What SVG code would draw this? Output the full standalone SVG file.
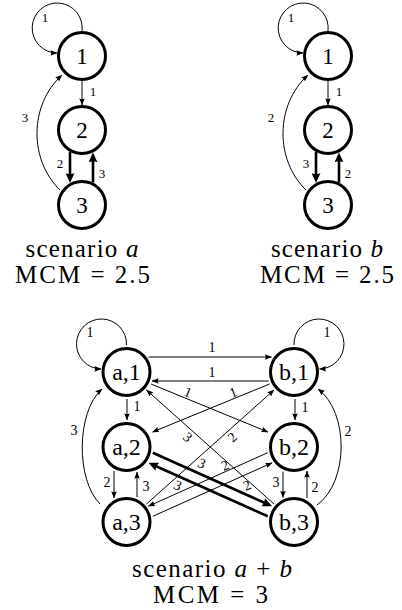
<svg xmlns="http://www.w3.org/2000/svg" width="402" height="610" viewBox="0 0 402 610">
<defs>
<marker id="ah" viewBox="0 0 10 8" refX="9.5" refY="4" markerWidth="7" markerHeight="5.6" orient="auto" markerUnits="userSpaceOnUse"><path d="M0,0 L10,4 L0,8 Q2.5,4 0,0 z" fill="#000"/></marker>
<marker id="AH" viewBox="0 0 10 9" refX="4" refY="4.5" markerWidth="10" markerHeight="9" orient="auto" markerUnits="userSpaceOnUse"><path d="M0,0 L10,4.5 L0,9 Q2.5,4.5 0,0 z" fill="#000"/></marker>
</defs>

<g id="scenario-a">
<g id="edges-a" fill="none" stroke="#000" stroke-width="1">
<path marker-end="url(#ah)" d="M82,31 A25,25 0 1 0 57,53"/>
<path marker-end="url(#ah)" d="M82,81 V105"/>
<path marker-end="url(#AH)" stroke-width="2.6" d="M70,152 V177"/>
<path marker-end="url(#AH)" stroke-width="2.6" d="M93,182.6 V158.4"/>
<path marker-end="url(#ah)" d="M60,190 C29,160 29,105 62,75"/>
</g>
<g id="labels-a" font-size="13" text-anchor="middle" fill="#000">
<text font-family="'Liberation Serif', serif" x="45" y="21.5">1</text>
<text font-family="'Liberation Serif', serif" x="93" y="95.5">1</text>
<text font-family="'Liberation Serif', serif" x="60" y="167.5">2</text>
<text font-family="'Liberation Serif', serif" x="102" y="177.5">3</text>
<text font-family="'Liberation Serif', serif" x="25" y="121.5">3</text>
</g>
<g fill="#fff" stroke="#000" stroke-width="3">
<g id="a-1"><circle cx="82" cy="56" r="23.5"/><text font-family="'Liberation Serif', serif" font-size="23" text-anchor="middle" fill="#000" stroke="none" x="82" y="64">1</text></g>
<g id="a-2"><circle cx="82" cy="130" r="23.5"/><text font-family="'Liberation Serif', serif" font-size="23" text-anchor="middle" fill="#000" stroke="none" x="82" y="138">2</text></g>
<g id="a-3"><circle cx="82" cy="205" r="23.5"/><text font-family="'Liberation Serif', serif" font-size="23" text-anchor="middle" fill="#000" stroke="none" x="82" y="213">3</text></g>
</g>
<g font-size="25" text-anchor="middle" fill="#000">
<text font-family="'Liberation Serif', serif" x="82" y="257" textLength="113">scenario <tspan font-style="italic">a</tspan></text>
<text font-family="'Liberation Serif', serif" x="82.5" y="283" textLength="135">MCM = 2.5</text>
</g>
</g>

<g id="scenario-b" transform="translate(246,0)">
<g id="edges-b" fill="none" stroke="#000" stroke-width="1">
<path marker-end="url(#ah)" d="M82,31 A25,25 0 1 0 57,53"/>
<path marker-end="url(#ah)" d="M82,81 V105"/>
<path marker-end="url(#AH)" stroke-width="2.6" d="M70,152 V177"/>
<path marker-end="url(#AH)" stroke-width="2.6" d="M93,182.6 V158.4"/>
<path marker-end="url(#ah)" d="M60,190 C29,160 29,105 62,75"/>
</g>
<g id="labels-b" font-size="13" text-anchor="middle" fill="#000">
<text font-family="'Liberation Serif', serif" x="45" y="21.5">1</text>
<text font-family="'Liberation Serif', serif" x="93" y="95.5">1</text>
<text font-family="'Liberation Serif', serif" x="60" y="167.5">3</text>
<text font-family="'Liberation Serif', serif" x="102" y="177.5">2</text>
<text font-family="'Liberation Serif', serif" x="25" y="121.5">2</text>
</g>
<g fill="#fff" stroke="#000" stroke-width="3">
<g id="b-1"><circle cx="82" cy="56" r="23.5"/><text font-family="'Liberation Serif', serif" font-size="23" text-anchor="middle" fill="#000" stroke="none" x="82" y="64">1</text></g>
<g id="b-2"><circle cx="82" cy="130" r="23.5"/><text font-family="'Liberation Serif', serif" font-size="23" text-anchor="middle" fill="#000" stroke="none" x="82" y="138">2</text></g>
<g id="b-3"><circle cx="82" cy="205" r="23.5"/><text font-family="'Liberation Serif', serif" font-size="23" text-anchor="middle" fill="#000" stroke="none" x="82" y="213">3</text></g>
</g>
<g font-size="25" text-anchor="middle" fill="#000">
<text font-family="'Liberation Serif', serif" x="81" y="257" textLength="112">scenario <tspan font-style="italic">b</tspan></text>
<text font-family="'Liberation Serif', serif" x="81" y="283" textLength="134">MCM = 2.5</text>
</g>
</g>

<g id="scenario-ab">
<g id="edges-ab" fill="none" stroke="#000" stroke-width="1">
<path marker-end="url(#ah)" d="M148.5,357 H271.5"/>
<path marker-end="url(#ah)" d="M268.5,381 H152"/>
<path marker-end="url(#ah)" d="M127,399 V420"/>
<path marker-end="url(#ah)" d="M295,399 V420"/>
<path marker-end="url(#ah)" d="M114,471 V498"/>
<path marker-end="url(#ah)" d="M137,497 V472"/>
<path marker-end="url(#ah)" d="M283,471.5 V497.5"/>
<path marker-end="url(#ah)" d="M307,498 V471"/>
<path marker-end="url(#ah)" d="M100,504 C76,480 76,412 102,389"/>
<path marker-end="url(#ah)" d="M317,505 C349,482 349,412 318,389"/>
<path marker-end="url(#ah)" d="M126.5,345 A25,25 0 1 0 101,369"/>
<path marker-end="url(#ah)" d="M294,345 A25,25 0 1 1 319.5,369"/>
<path marker-end="url(#ah)" d="M151,384 L268,432"/>
<path marker-end="url(#ah)" d="M269.5,384 L152.5,432"/>
<path marker-end="url(#ah)" d="M146.5,504 L274,390"/>
<path marker-end="url(#ah)" d="M274,504 L146.5,390"/>
<path marker-end="url(#AH)" stroke-width="2.6" d="M152.8,452.7 L266.6,503.8"/>
<path marker-end="url(#AH)" stroke-width="2.6" d="M267.7,516.3 L153.9,465.2"/>
<path marker-end="url(#ah)" d="M152.8,516.3 L272.1,462.8"/>
<path marker-end="url(#ah)" d="M267.7,452.7 L148.4,506.2"/>
</g>
<g id="labels-ab" font-size="14" text-anchor="middle" fill="#000">
<text font-family="'Liberation Serif', serif" x="90" y="337">1</text>
<text font-family="'Liberation Serif', serif" x="327" y="337">1</text>
<text font-family="'Liberation Serif', serif" x="212" y="352">1</text>
<text font-family="'Liberation Serif', serif" x="212" y="377">1</text>
<text font-family="'Liberation Serif', serif" x="137" y="411">1</text>
<text font-family="'Liberation Serif', serif" x="305" y="412">1</text>
<text font-family="'Liberation Serif', serif" x="107" y="487">2</text>
<text font-family="'Liberation Serif', serif" x="146" y="491">3</text>
<text font-family="'Liberation Serif', serif" x="276" y="487">3</text>
<text font-family="'Liberation Serif', serif" x="315" y="492">2</text>
<text font-family="'Liberation Serif', serif" x="74" y="435">3</text>
<text font-family="'Liberation Serif', serif" x="348" y="436">2</text>
<text font-family="'Liberation Serif', serif" transform="translate(188,392) rotate(22)" y="5">1</text>
<text font-family="'Liberation Serif', serif" transform="translate(233,392) rotate(-22)" y="5">1</text>
<text font-family="'Liberation Serif', serif" transform="translate(188,437) rotate(42)" y="5">3</text>
<text font-family="'Liberation Serif', serif" transform="translate(232,437) rotate(-42)" y="5">2</text>
<text font-family="'Liberation Serif', serif" transform="translate(202,463) rotate(24)" y="5">3</text>
<text font-family="'Liberation Serif', serif" transform="translate(225,465) rotate(-24)" y="5">2</text>
<text font-family="'Liberation Serif', serif" transform="translate(178,485) rotate(24)" y="5">3</text>
<text font-family="'Liberation Serif', serif" transform="translate(247,485) rotate(-24)" y="5">2</text>
</g>
<g fill="#fff" stroke="#000" stroke-width="3">
<g id="ab-a1"><circle cx="126.5" cy="372" r="23.5"/><text font-family="'Liberation Serif', serif" font-size="24" text-anchor="middle" fill="#000" stroke="none" x="126.5" y="380">a,1</text></g>
<g id="ab-a2"><circle cx="126.5" cy="447" r="23.5"/><text font-family="'Liberation Serif', serif" font-size="24" text-anchor="middle" fill="#000" stroke="none" x="126.5" y="455">a,2</text></g>
<g id="ab-a3"><circle cx="126.5" cy="522" r="23.5"/><text font-family="'Liberation Serif', serif" font-size="24" text-anchor="middle" fill="#000" stroke="none" x="126.5" y="530">a,3</text></g>
<g id="ab-b1"><circle cx="294" cy="372" r="23.5"/><text font-family="'Liberation Serif', serif" font-size="24" text-anchor="middle" fill="#000" stroke="none" x="294" y="380">b,1</text></g>
<g id="ab-b2"><circle cx="294" cy="447" r="23.5"/><text font-family="'Liberation Serif', serif" font-size="24" text-anchor="middle" fill="#000" stroke="none" x="294" y="455">b,2</text></g>
<g id="ab-b3"><circle cx="294" cy="522" r="23.5"/><text font-family="'Liberation Serif', serif" font-size="24" text-anchor="middle" fill="#000" stroke="none" x="294" y="530">b,3</text></g>
</g>
<g font-size="25" text-anchor="middle" fill="#000">
<text font-family="'Liberation Serif', serif" x="212" y="577" textLength="160">scenario <tspan font-style="italic">a</tspan> + <tspan font-style="italic">b</tspan></text>
<text font-family="'Liberation Serif', serif" x="210.5" y="603" textLength="115">MCM = 3</text>
</g>
</g>
</svg>
